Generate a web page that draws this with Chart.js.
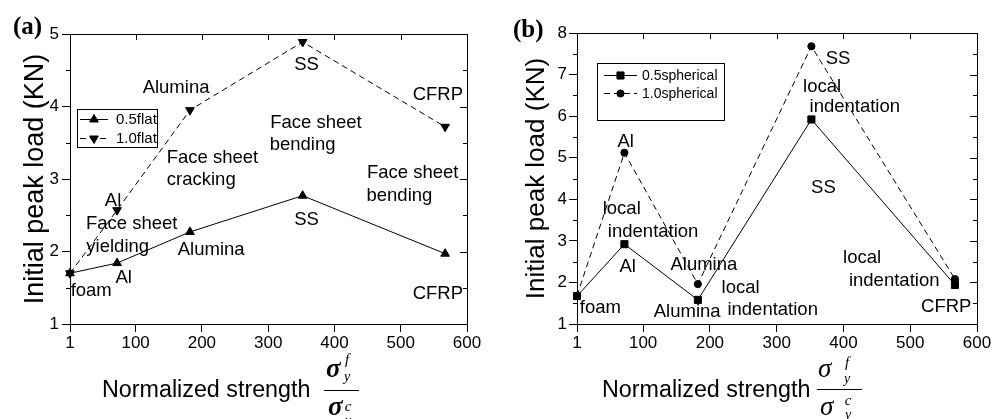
<!DOCTYPE html>
<html lang="en">
<head>
<meta charset="UTF-8">
<title>Initial peak load</title>
<script src="https://cdn.jsdelivr.net/npm/chart.js"></script>
<style>
  body { margin: 0; background: #fff; }
  .painel { position: absolute; top: 0; }
  #painelA { left: 0; }
  #painelB { left: 490px; }
</style>
</head>
<body>

<div class="painel" id="painelA"><canvas id="chartA" width="490" height="419"></canvas></div>
<div class="painel" id="painelB"><canvas id="chartB" width="509" height="419"></canvas></div>

<script>
// normalized strength of each face sheet material
var materiais = ['foam', 'Al', 'Alumina', 'SS', 'CFRP'];
var xForca = [1, 72, 182, 352, 567];
var xTicks = [1, 100, 200, 300, 400, 500, 600];
var yTicksA = [1, 2, 3, 4, 5];
var yTicksB = [1, 2, 3, 4, 5, 6, 7, 8];

// initial peak load (KN)
var flat05 = [1.70, 1.84, 2.27, 2.77, 1.97];
var flat10 = [1.70, 2.57, 3.95, 4.89, 3.72];
var esf05 = [1.67, 2.92, 1.58, 5.92, 1.94];
var esf10 = [1.68, 5.12, 1.96, 7.68, 2.08];

// texts inside the plots: [text, x, y]
var textosA = [
  ['Alumina', 161, 4.25], ['SS', 358, 4.57], ['CFRP', 556, 4.16],
  ['Face sheet', 372, 3.78], ['bending', 352, 3.47],
  ['Face sheet', 216, 3.29], ['cracking', 199, 2.99],
  ['Face sheet', 518, 3.09], ['bending', 498, 2.76],
  ['Al', 66, 2.70], ['Face sheet', 94, 2.38], ['yielding', 73, 2.07],
  ['Alumina', 214, 2.02], ['SS', 358, 2.44], ['Al', 82, 1.63],
  ['foam', 33, 1.45], ['CFRP', 556, 1.41]
];
var textosB = [
  ['Al', 74, 5.39], ['SS', 392, 7.38], ['local', 368, 6.70], ['indentation', 417, 6.22],
  ['SS', 370, 4.27], ['local', 68, 3.76], ['indentation', 115, 3.21],
  ['Al', 77, 2.38], ['Alumina', 191, 2.42], ['local', 246, 1.88],
  ['indentation', 294, 1.35], ['Alumina', 166, 1.30], ['foam', 36, 1.38],
  ['local', 428, 2.58], ['indentation', 476, 2.04], ['CFRP', 554, 1.42]
];

function pontos(ys) {
  return xForca.map(function (x, i) { return { x: x, y: ys[i] }; });
}

function serie(nome, ys, tracejado, estilo, raio, rotacao) {
  return {
    label: nome,
    data: pontos(ys),
    borderColor: '#000',
    backgroundColor: '#000',
    borderWidth: 1,
    borderDash: tracejado ? [6, 4] : [],
    pointStyle: estilo,
    pointRadius: raio,
    pointRotation: rotacao || 0,
    pointBorderWidth: 1,
    tension: 0,
    clip: false
  };
}

// frame, mirrored ticks, minor ticks, texts, legend, x title with fraction
var pluginDesenho = {
  id: 'desenho',
  afterDraw: function (chart) {
    var cfg = chart.options.plugins.desenho;
    var ctx = chart.ctx, a = chart.chartArea;
    var sx = chart.scales.x, sy = chart.scales.y;
    ctx.save();
    ctx.strokeStyle = '#000';
    ctx.fillStyle = '#000';
    ctx.lineWidth = 1;
    ctx.setLineDash([]);

    ctx.beginPath();
    ctx.moveTo(a.left + 0.5, a.top + 0.5);
    ctx.lineTo(a.right + 0.5, a.top + 0.5);
    ctx.lineTo(a.right + 0.5, a.bottom + 0.5);
    ctx.stroke();

    ctx.beginPath();
    xTicks.forEach(function (v) {
      var px = Math.round(sx.getPixelForValue(v)) + 0.5;
      ctx.moveTo(px, a.top); ctx.lineTo(px, a.top + 6);
    });
    cfg.yTicks.forEach(function (v) {
      var py = Math.round(sy.getPixelForValue(v)) + 0.5;
      ctx.moveTo(a.right, py); ctx.lineTo(a.right - 7, py);
    });
    for (var m = cfg.yTicks[0] + 0.5; m < cfg.yTicks[cfg.yTicks.length - 1]; m += 1) {
      var pm = Math.round(sy.getPixelForValue(m)) + 0.5;
      ctx.moveTo(a.left, pm); ctx.lineTo(a.left - 4, pm);
      ctx.moveTo(a.right, pm); ctx.lineTo(a.right - 4, pm);
    }
    ctx.stroke();

    // texts
    ctx.font = cfg.fonteTexto;
    ctx.textAlign = 'center';
    ctx.textBaseline = 'middle';
    cfg.textos.forEach(function (t) {
      ctx.fillText(t[0], sx.getPixelForValue(t[1]), sy.getPixelForValue(t[2]));
    });

    // legend
    var lg = cfg.legenda;
    var lx = a.left + lg.x, ly = a.top + lg.y;
    ctx.strokeRect(lx + 0.5, ly + 0.5, lg.w, lg.h);
    ctx.font = lg.fonte;
    ctx.textAlign = 'left';
    chart.data.datasets.forEach(function (ds, i) {
      var yy = ly + lg.linhas[i];
      ctx.setLineDash(ds.borderDash);
      ctx.beginPath();
      ctx.moveTo(lx + lg.l0, yy + 0.5);
      ctx.lineTo(lx + lg.l1, yy + 0.5);
      ctx.stroke();
      ctx.setLineDash([]);
      Chart.helpers.drawPoint(ctx, {
        pointStyle: ds.pointStyle, radius: ds.pointRadius,
        rotation: ds.pointRotation, borderWidth: 1
      }, lx + (lg.l0 + lg.l1) / 2, yy + 0.5);
      ctx.fillText(ds.label, lx + lg.tx, yy + 1);
    });

    // panel letter
    ctx.font = 'bold 25px "Liberation Serif"';
    ctx.textBaseline = 'alphabetic';
    ctx.fillText(cfg.letra[0], cfg.letra[1], cfg.letra[2]);

    // x title
    var f = cfg.fracao;
    ctx.font = '23.3px "Liberation Sans"';
    ctx.fillText('Normalized strength', f.tx, 397);
    ctx.beginPath();
    ctx.moveTo(f.l0, f.ly + 0.5);
    ctx.lineTo(f.l1, f.ly + 0.5);
    ctx.stroke();
    ctx.font = f.sigma;
    ctx.fillText('\u03c3', f.s, 377);
    ctx.fillText('\u03c3', f.s + 2, 415);
    ctx.textAlign = 'center';
    ctx.font = 'italic 15px "Liberation Serif"';
    ctx.fillText('f', f.sup, f.fy);
    ctx.fillText('c', f.sup + 1, f.cy);
    ctx.font = 'italic 14px "Liberation Serif"';
    ctx.fillText('y', f.sup, f.yy);
    ctx.fillText('y', f.sup + 1, f.yy2);
    ctx.restore();
  }
};

function opcoes(yMax, yTicks, larguraY, padY, fonteY, padTicks, desenho) {
  return {
    responsive: false,
    animation: false,
    layout: { padding: desenho.padding },
    plugins: {
      legend: { display: false },
      tooltip: { enabled: false },
      desenho: desenho
    },
    scales: {
      x: {
        type: 'linear',
        min: 1,
        max: 600,
        afterBuildTicks: function (s) { s.ticks = xTicks.map(function (v) { return { value: v }; }); },
        afterFit: function (s) { s.height = 95; },
        grid: { drawOnChartArea: false, drawTicks: true, tickLength: 8, color: '#000' },
        border: { display: true, color: '#000', width: 1 },
        ticks: {
          color: '#000', padding: 1, maxRotation: 0, autoSkip: false,
          font: { family: 'Liberation Sans', size: 17 },
          callback: function (v) { return String(v); }
        }
      },
      y: {
        min: 1,
        max: yMax,
        afterBuildTicks: function (s) { s.ticks = yTicks.map(function (v) { return { value: v }; }); },
        afterFit: function (s) { s.width = larguraY; },
        grid: { drawOnChartArea: false, drawTicks: true, tickLength: 8, color: '#000' },
        border: { display: true, color: '#000', width: 1 },
        ticks: {
          color: '#000', padding: padTicks,
          font: { family: 'Liberation Sans', size: 17 }
        },
        title: {
          display: true,
          text: 'Initial peak load (KN)',
          color: '#000',
          padding: { top: padY, bottom: 0 },
          font: { family: 'Liberation Sans', size: fonteY, weight: 'normal' }
        }
      }
    }
  };
}

var graficoA = new Chart(document.getElementById('chartA'), {
  type: 'line',
  data: {
    datasets: [
      serie('0.5flat', flat05, false, 'triangle', 5, 0),
      serie('1.0flat', flat10, true, 'triangle', 5, 180)
    ]
  },
  options: opcoes(5, yTicksA, 70, 19, 27, 3, {
    padding: { top: 34, right: 23, left: 0, bottom: 0 },
    yTicks: yTicksA,
    textos: textosA,
    fonteTexto: '18.5px "Liberation Sans"',
    legenda: { x: 7, y: 75, w: 80, h: 38, linhas: [10, 29], l0: 3, l1: 31, tx: 39, fonte: '15px "Liberation Sans"' },
    letra: ['(a)', 13, 34],
    fracao: { tx: 102, l0: 324, l1: 359, ly: 390, s: 326, sigma: 'italic bold 27px "Liberation Serif"', sup: 347, fy: 364, cy: 411, yy: 381, yy2: 425 }
  }),
  plugins: [pluginDesenho]
});

var graficoB = new Chart(document.getElementById('chartB'), {
  type: 'line',
  data: {
    datasets: [
      serie('0.5spherical', esf05, false, 'rect', 5, 0),
      serie('1.0spherical', esf10, true, 'circle', 3.6, 0)
    ]
  },
  options: opcoes(8, yTicksB, 87, 31, 26, 2, {
    padding: { top: 33, right: 22, left: 0, bottom: 0 },
    yTicks: yTicksB,
    textos: textosB,
    fonteTexto: '18.5px "Liberation Sans"',
    legenda: { x: 20, y: 30, w: 127, h: 57, linhas: [12, 30], l0: 7, l1: 40, tx: 45, fonte: '14px "Liberation Sans"' },
    letra: ['(b)', 23, 37],
    fracao: { tx: 112, l0: 327, l1: 372, ly: 389, s: 328, sigma: 'italic 27px "Liberation Serif"', sup: 357, fy: 367, cy: 405, yy: 383, yy2: 419 }
  }),
  plugins: [pluginDesenho]
});
</script>
</body>
</html>
